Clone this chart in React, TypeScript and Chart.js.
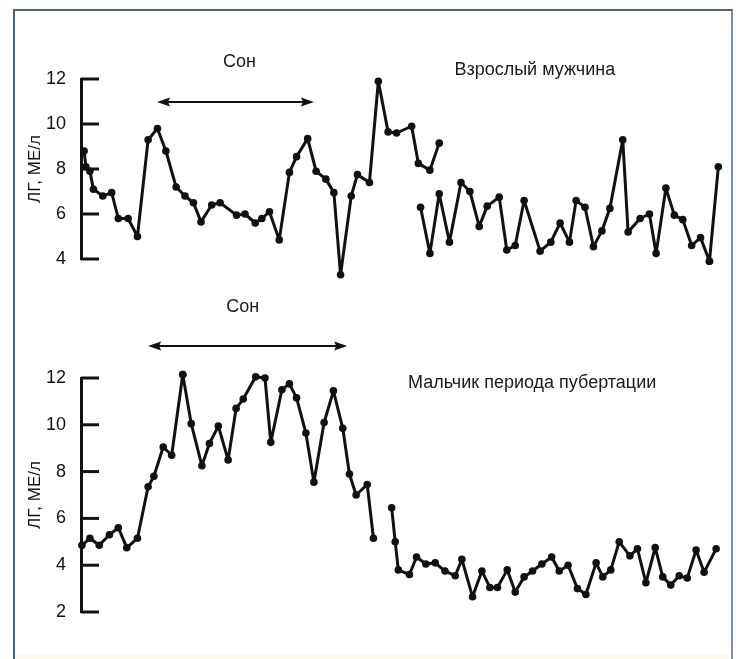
import React, { useEffect, useRef } from "react";
import { Chart, registerables } from "chart.js";
Chart.register(...registerables);

// Time since start of recording, minutes
const manTime1 = [7, 11, 20, 28, 49, 69, 84, 106, 127, 151, 172, 191, 214, 234, 253, 270, 294, 313, 350, 369, 392, 407, 424, 446, 469, 485, 510, 529, 551, 569, 584, 608, 622, 649, 669, 691, 710, 744, 759, 785, 806];
const manLH1 = [8.8, 8.1, 7.9, 7.1, 6.8, 6.95, 5.8, 5.8, 5.0, 9.3, 9.8, 8.8, 7.2, 6.8, 6.5, 5.65, 6.4, 6.5, 5.95, 6.0, 5.6, 5.8, 6.1, 4.85, 7.85, 8.55, 9.35, 7.9, 7.55, 6.95, 3.3, 6.8, 7.75, 7.4, 11.9, 9.65, 9.6, 9.9, 8.25, 7.95, 9.15];
const manTime2 = [764, 785, 806, 829, 855, 875, 896, 914, 941, 958, 977, 997, 1033, 1057, 1078, 1099, 1114, 1134, 1153, 1172, 1190, 1219, 1231, 1258, 1279, 1294, 1316, 1335, 1354, 1374, 1394, 1414, 1434];
const manLH2 = [6.3, 4.25, 6.9, 4.75, 7.4, 7.0, 5.45, 6.35, 6.75, 4.4, 4.6, 6.6, 4.35, 4.75, 5.6, 4.75, 6.6, 6.3, 4.55, 5.25, 6.25, 9.3, 5.2, 5.8, 6.0, 4.25, 7.15, 5.95, 5.75, 4.6, 4.95, 3.9, 8.1];

const boyTime1 = [2, 20, 41, 64, 84, 103, 127, 151, 164, 185, 204, 229, 248, 272, 289, 309, 331, 349, 365, 393, 414, 427, 452, 469, 485, 506, 524, 547, 568, 589, 604, 619, 644, 658];
const boyLH1 = [4.85, 5.15, 4.85, 5.3, 5.6, 4.75, 5.15, 7.35, 7.8, 9.05, 8.7, 12.15, 10.05, 8.25, 9.2, 9.95, 8.5, 10.7, 11.1, 12.05, 12.0, 9.25, 11.5, 11.75, 11.15, 9.65, 7.55, 10.1, 11.45, 9.85, 7.9, 7.0, 7.45, 5.15];
const boyTime2 = [699, 707, 714, 739, 755, 776, 797, 819, 842, 857, 881, 902, 920, 937, 959, 977, 997, 1016, 1037, 1059, 1076, 1096, 1117, 1136, 1159, 1174, 1192, 1211, 1235, 1252, 1271, 1292, 1309, 1327, 1346, 1364, 1384, 1402, 1429];
const boyLH2 = [6.45, 5.0, 3.8, 3.6, 4.35, 4.05, 4.1, 3.75, 3.55, 4.25, 2.65, 3.75, 3.05, 3.05, 3.8, 2.85, 3.5, 3.75, 4.05, 4.35, 3.75, 4.0, 3.0, 2.75, 4.1, 3.5, 3.8, 5.0, 4.4, 4.7, 3.25, 4.75, 3.5, 3.15, 3.55, 3.45, 4.65, 3.7, 4.7];

const manTicks = [4, 6, 8, 10, 12];
const boyTicks = [2, 4, 6, 8, 10, 12];
const manSleep = [171, 524];
const boySleep = [151, 599];

const yTitle = "ЛГ, МЕ/л";
const sleepLabel = "Сон";
const manLabel = "Взрослый мужчина";
const boyLabel = "Мальчик периода пубертации";

const FONT = '"Liberation Sans", Arial, sans-serif';
const INK = "#111";

const overlayPlugin = {
  id: "overlay",
  beforeDatasetsDraw(chart: any, _args: any, opts: any) {
    const { ctx, chartArea, scales } = chart;
    const y = scales.y;
    ctx.save();
    ctx.strokeStyle = INK;
    ctx.lineWidth = 3;
    for (const t of y.ticks) {
      const py = y.getPixelForValue(t.value);
      ctx.beginPath();
      ctx.moveTo(chartArea.left, py);
      ctx.lineTo(chartArea.left + opts.tickLen, py);
      ctx.stroke();
    }
    ctx.restore();
  },
  afterDatasetsDraw(chart: any) {
    // Chart.js skips points outside the chart area; draw those markers here
    const { ctx, chartArea } = chart;
    ctx.save();
    ctx.fillStyle = INK;
    chart.data.datasets.forEach((_d: any, i: number) => {
      const meta = chart.getDatasetMeta(i);
      for (const el of meta.data) {
        const r = el.options.radius;
        if (el.x < chartArea.left - r / 2 || el.x > chartArea.right + r / 2 || el.y < chartArea.top - r / 2 || el.y > chartArea.bottom + r / 2) {
          ctx.beginPath();
          ctx.arc(el.x, el.y, r, 0, Math.PI * 2);
          ctx.fill();
        }
      }
    });
    ctx.restore();
  },
  afterDraw(chart: any, _args: any, opts: any) {
    const { ctx, chartArea, scales } = chart;
    const x = scales.x;
    ctx.save();
    const x1 = x.getPixelForValue(opts.sleep[0]);
    const x2 = x.getPixelForValue(opts.sleep[1]);
    const ay = chartArea.top + opts.arrowDy;
    const head = 13;
    const hw = 4.5;
    ctx.strokeStyle = INK;
    ctx.fillStyle = INK;
    ctx.lineWidth = 2;
    ctx.beginPath();
    ctx.moveTo(x1 + 4, ay);
    ctx.lineTo(x2 - 4, ay);
    ctx.stroke();
    ctx.beginPath();
    ctx.moveTo(x1, ay);
    ctx.lineTo(x1 + head, ay - hw);
    ctx.lineTo(x1 + head - 2, ay);
    ctx.lineTo(x1 + head, ay + hw);
    ctx.closePath();
    ctx.fill();
    ctx.beginPath();
    ctx.moveTo(x2, ay);
    ctx.lineTo(x2 - head, ay - hw);
    ctx.lineTo(x2 - head + 2, ay);
    ctx.lineTo(x2 - head, ay + hw);
    ctx.closePath();
    ctx.fill();
    ctx.font = `18px ${FONT}`;
    ctx.textAlign = "center";
    ctx.textBaseline = "middle";
    ctx.fillStyle = "#1a1a1a";
    ctx.fillText(sleepLabel, (x1 + x2) / 2 + opts.sleepDx, chartArea.top + opts.sleepDy);
    ctx.fillText(opts.label, x.getPixelForValue(opts.labelX), chartArea.top + opts.labelDy);
    ctx.restore();
  },
};

type Props = {
  top: number;
  height: number;
  padTop: number;
  padBottom: number;
  times1: number[];
  values1: number[];
  times2: number[];
  values2: number[];
  ticks: number[];
  overlay: any;
};

function LHChart(p: Props) {
  const ref = useRef<HTMLCanvasElement | null>(null);
  useEffect(() => {
    if (!ref.current) return;
    const mk = (t: number[], v: number[]) => t.map((tt, i) => ({ x: tt, y: v[i] }));
    const ds = (data: any) => ({
      data,
      borderColor: INK,
      backgroundColor: INK,
      pointBackgroundColor: INK,
      pointBorderWidth: 0,
      pointRadius: 3.8,
      pointHoverRadius: 0,
      borderWidth: 3,
      borderJoinStyle: "round",
      borderCapStyle: "round",
      tension: 0,
      clip: false,
    });
    const chart = new Chart(ref.current, {
      type: "line",
      data: {
        datasets: [ds(mk(p.times1, p.values1)), ds(mk(p.times2, p.values2))],
      },
      plugins: [overlayPlugin],
      options: {
        animation: false,
        responsive: false,
        events: [],
        layout: { padding: { top: p.padTop, bottom: p.padBottom, left: 0, right: 17 } },
        plugins: {
          legend: { display: false },
          tooltip: { enabled: false },
          overlay: p.overlay,
        } as any,
        scales: {
          x: { type: "linear", min: 0, max: 1440, display: false },
          y: {
            type: "linear",
            min: p.ticks[0],
            max: p.ticks[p.ticks.length - 1],
            afterFit: (s: any) => {
              s.width = 81;
            },
            afterBuildTicks: (s: any) => {
              s.ticks = p.ticks.map((v) => ({ value: v }));
            },
            grid: { display: false },
            border: { display: true, width: 3, color: INK },
            ticks: {
              color: INK,
              padding: 7,
              font: { family: FONT, size: 18 },
            },
            title: {
              display: true,
              text: yTitle,
              color: INK,
              font: { family: FONT, size: 17 },
              padding: { top: 25, bottom: 0 },
            },
          },
        },
      } as any,
    });
    return () => chart.destroy();
  }, []);
  return (
    <canvas
      ref={ref}
      width={738}
      height={p.height}
      style={{ position: "absolute", left: 0, top: p.top, width: 738, height: p.height }}
    />
  );
}

export default function App() {
  return (
    <div style={{ position: "absolute", left: 0, top: 0, width: 738, height: 659, background: "#fff", overflow: "hidden" }}>
      <div
        style={{
          position: "absolute",
          left: 13,
          top: 9,
          width: 720,
          height: 660,
          boxSizing: "border-box",
          borderLeft: "2px solid #4b5f86",
          borderTop: "2px solid #55607a",
          borderRight: "2px solid #7b8fb0",
        }}
      />
      <div style={{ position: "absolute", left: 15, top: 654, width: 714, height: 5, background: "#fefbec" }} />
      <LHChart
        top={0}
        height={280}
        padTop={79}
        padBottom={21}
        times1={manTime1}
        values1={manLH1}
        times2={manTime2}
        values2={manLH2}
        ticks={manTicks}
        overlay={{ tickLen: 18, sleep: manSleep, arrowDy: 23, sleepDx: 4, sleepDy: -17, label: manLabel, labelX: 1021, labelDy: -9 }}
      />
      <LHChart
        top={280}
        height={379}
        padTop={98}
        padBottom={47}
        times1={boyTime1}
        values1={boyLH1}
        times2={boyTime2}
        values2={boyLH2}
        ticks={boyTicks}
        overlay={{ tickLen: 18, sleep: boySleep, arrowDy: -32, sleepDx: -5, sleepDy: -71, label: boyLabel, labelX: 1015, labelDy: 5 }}
      />
    </div>
  );
}
